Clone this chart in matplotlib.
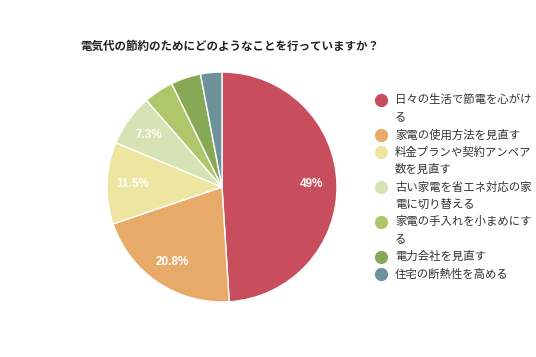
import matplotlib
matplotlib.use("Agg")
import matplotlib.pyplot as plt
from matplotlib.lines import Line2D

plt.rcParams['font.family'] = ['Noto Sans CJK JP', 'DejaVu Sans']

title = "電気代の節約のためにどのようなことを行っていますか？"
categories = [
    "日々の生活で節電を心がけ\nる",
    "家電の使用方法を見直す",
    "料金プランや契約アンペア\n数を見直す",
    "古い家電を省エネ対応の家\n電に切り替える",
    "家電の手入れを小まめにす\nる",
    "電力会社を見直す",
    "住宅の断熱性を高める",
]
values = [49.0, 20.8, 11.5, 7.3, 4.2, 4.2, 3.0]
shown_labels = ["49%", "20.8%", "11.5%", "7.3%", "", "", ""]
colors = ["#C84D5D", "#E8AA68", "#EDE5A0", "#D6E3B5", "#AFC66A", "#87A955", "#6D9299"]

fig = plt.figure(figsize=(5.36, 3.57), dpi=100)
ax = fig.add_axes([107/536, 1 - 302/357, 230/536, 230/357])

wedges, texts = ax.pie(values, colors=colors, startangle=90, counterclock=False,
                       labels=shown_labels, labeldistance=0.78,
                       wedgeprops=dict(edgecolor="white", linewidth=1.0),
                       textprops=dict(color="white", fontsize=8.5, fontweight="bold",
                                      family=["Liberation Sans", "DejaVu Sans"]))
for t in texts:
    t.set_ha("center")
    t.set_va("center")
ax.set_aspect("equal")
ax.set_xlim(-1, 1)
ax.set_ylim(-1, 1)

fig.text(230/536, 1 - 46/357, title, ha="center", va="center",
         fontsize=8.3, fontweight="bold", color="#222222")

# legend drawn manually
line_h = 17.4
y = 100.0
for cat, col in zip(categories, colors):
    fig.add_artist(Line2D([381/536], [1 - y/357], marker="o", markersize=8.5,
                          color=col, linestyle="none", transform=fig.transFigure))
    for i, part in enumerate(cat.split("\n")):
        fig.text(395/536, 1 - (y + i*line_h)/357, part, ha="left", va="center",
                 fontsize=8.2, color="#333333")
    y += line_h * len(cat.split("\n"))

fig.savefig("out.png", dpi=100, facecolor="white")
